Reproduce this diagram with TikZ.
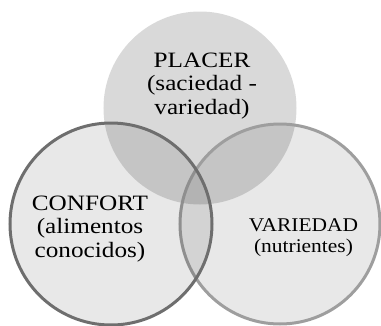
\documentclass[tikz,border=0pt]{standalone}
\usepackage{fontspec}
\setmainfont{Liberation Serif}

\begin{document}
\begin{tikzpicture}[x=1bp, y=-1bp]
            \tikzstyle{set}=[circle,inner sep=0pt,fill=black,fill opacity=0.09,line width=3bp]
            \tikzstyle{settext}=[align=center,inner sep=0pt,text=black,xscale=1.15,font=\fontsize{22}{23.5}\selectfont]
            \useasboundingbox (0,0) rectangle (381,326);
            \node[set,fill opacity=0.15,minimum size=193bp] (P) at (200,108) {};
            \node[set,draw=black!38,minimum size=200bp] (V) at (280,224) {};
            \node[set,draw=black!57,minimum size=202bp] (C) at (111,224) {};

            \node[settext] (P_t) at (202,86) {PLACER\\(saciedad -\\variedad)};
            \node[settext] (C_t) at (90,229) {CONFORT\\(alimentos\\conocidos)};
            \node[settext,xscale=0.96,font=\fontsize{19.5}{21}\selectfont] (V_t) at (303.5,237.5) {VARIEDAD\\(nutrientes)};
        \end{tikzpicture}
\end{document}
